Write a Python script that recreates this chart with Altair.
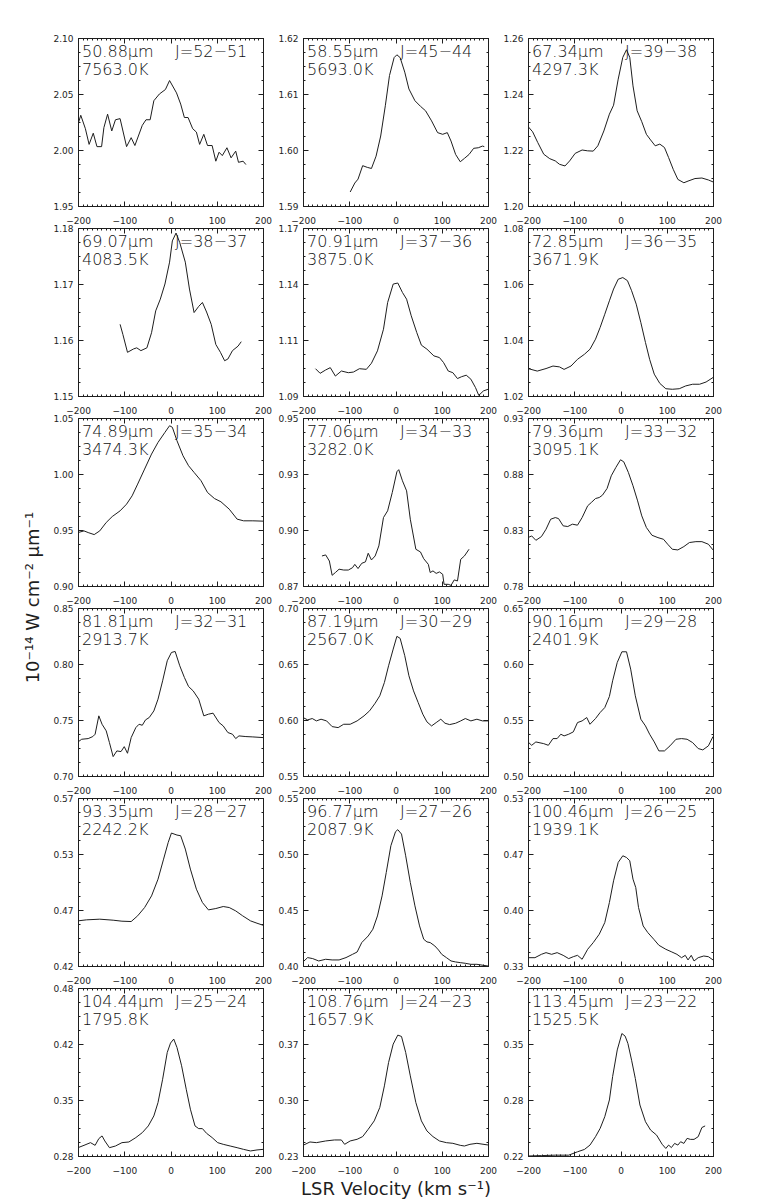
import altair as alt
import pandas as pd

# ---------------- data ----------------
V01 = [-200,-194,-184,-176,-167,-159,-149,-144,-136,-127,-119,-109,-95,-85,-77,-61,-53,-44,-36,-24,-11,-2,13,22,30,38,48,56,63,72,80,90,98,105,112,122,131,141,147,157,163]
F01 = [2.023,2.031,2.019,2.005,2.015,2.003,2.003,2.020,2.032,2.017,2.027,2.028,2.003,2.011,2.004,2.022,2.027,2.027,2.044,2.050,2.054,2.062,2.051,2.041,2.029,2.029,2.019,2.016,2.005,2.014,2.004,2.004,1.990,1.998,1.995,2.002,1.993,1.999,1.989,1.990,1.987]

V02 = [-98,-88,-81,-71,-61,-52,-42,-32,-22,-13,-3,3,10,20,29,42,54,65,78,91,102,112,120,130,140,149,159,169,179,188,192]
F02 = [1.5925,1.5941,1.5948,1.5972,1.5969,1.5967,1.5989,1.6025,1.6079,1.6133,1.6165,1.6170,1.6165,1.6139,1.6109,1.6088,1.6078,1.6070,1.6052,1.6031,1.6028,1.6031,1.6016,1.5992,1.5979,1.5985,1.5992,1.6003,1.6004,1.6007,1.6006]

V03 = [-200,-190,-179,-166,-153,-141,-132,-120,-110,-98,-83,-71,-59,-49,-36,-24,-15,-5,5,13,20,27,36,46,56,65,75,85,95,104,114,124,137,146,161,176,190,200]
F03 = [1.2284,1.2265,1.2227,1.2185,1.2169,1.2161,1.2149,1.2143,1.2161,1.2188,1.2200,1.2197,1.2196,1.2215,1.2268,1.2328,1.2360,1.2453,1.2531,1.2558,1.2531,1.2429,1.2340,1.2301,1.2256,1.2236,1.2215,1.2221,1.2209,1.2173,1.2131,1.2095,1.2083,1.2089,1.2098,1.2100,1.2093,1.2086]

V04 = [-109,-103,-93,-80,-73,-64,-51,-41,-32,-22,-12,-2,4,12,20,32,41,51,61,69,78,88,98,108,117,124,134,146,153]
F04 = [1.1628,1.1610,1.1578,1.1584,1.1586,1.1581,1.1586,1.1613,1.1652,1.1673,1.1700,1.1739,1.1777,1.1791,1.1774,1.1739,1.1691,1.1649,1.1660,1.1667,1.1650,1.1628,1.1592,1.1578,1.1563,1.1566,1.1581,1.1589,1.1597]

V05 = [-173,-163,-151,-141,-130,-117,-102,-91,-78,-63,-52,-39,-26,-17,-5,5,15,24,34,46,56,68,83,95,104,114,124,134,143,153,163,173,180,190,200]
F05 = [1.1030,1.1008,1.1024,1.1035,1.0995,1.1019,1.1011,1.1014,1.1030,1.1027,1.1056,1.1115,1.1218,1.1345,1.1433,1.1438,1.1393,1.1361,1.1282,1.1202,1.1142,1.1123,1.1091,1.1083,1.1059,1.1019,1.1011,1.0983,1.0992,1.0999,1.0980,1.0940,1.0903,1.0924,1.0932]

V06 = [-200,-180,-161,-146,-132,-122,-107,-93,-78,-66,-54,-44,-34,-24,-15,-5,5,15,24,34,44,54,63,73,85,98,112,127,141,156,171,185,200]
F06 = [1.0298,1.0289,1.0298,1.0307,1.0304,1.0295,1.0307,1.0331,1.0349,1.0367,1.0403,1.0445,1.0492,1.0540,1.0582,1.0617,1.0623,1.0612,1.0576,1.0528,1.0462,1.0391,1.0331,1.0278,1.0245,1.0226,1.0224,1.0226,1.0236,1.0242,1.0242,1.0250,1.0266]

V07 = [-200,-187,-178,-165,-153,-139,-126,-109,-95,-83,-71,-56,-41,-27,-12,-2,4,14,27,39,51,66,80,95,109,127,144,158,178,200]
F07 = [0.9477,0.9492,0.9477,0.9459,0.9492,0.9567,0.9620,0.9671,0.9731,0.9805,0.9910,1.0044,1.0178,1.0282,1.0372,1.0431,1.0417,1.0297,1.0163,1.0074,1.0014,0.9940,0.9835,0.9781,0.9752,0.9686,0.9597,0.9582,0.9582,0.9579]

V08 = [-159,-151,-143,-137,-130,-122,-112,-102,-93,-88,-81,-73,-65,-59,-52,-44,-36,-26,-17,-7,3,7,15,24,32,44,54,61,71,75,81,88,95,102,105,114,120,127,134,141,149,159]
F08 = [0.8843,0.8848,0.8819,0.8751,0.8764,0.8780,0.8776,0.8776,0.8787,0.8803,0.8783,0.8808,0.8815,0.8856,0.8824,0.8843,0.8891,0.9026,0.9058,0.9145,0.9244,0.9254,0.9201,0.9153,0.9018,0.8875,0.8862,0.8830,0.8803,0.8764,0.8772,0.8760,0.8767,0.8756,0.8708,0.8708,0.8703,0.8729,0.8724,0.8827,0.8843,0.8875]

V09 = [-200,-192,-183,-171,-161,-151,-141,-134,-124,-114,-104,-93,-83,-71,-63,-54,-46,-39,-29,-20,-10,0,7,17,27,37,46,56,68,81,93,102,112,124,137,149,163,176,190,200]
F09 = [0.8232,0.8247,0.8208,0.8241,0.8307,0.8396,0.8411,0.8402,0.8337,0.8331,0.8352,0.8343,0.8411,0.8516,0.8546,0.8581,0.8590,0.8611,0.8671,0.8784,0.8859,0.8927,0.8909,0.8814,0.8695,0.8560,0.8426,0.8322,0.8253,0.8232,0.8217,0.8173,0.8128,0.8122,0.8152,0.8188,0.8196,0.8196,0.8173,0.8122]

V10 = [-200,-192,-178,-168,-163,-155,-148,-139,-132,-124,-116,-107,-100,-93,-85,-75,-68,-61,-54,-46,-36,-27,-17,-7,2,10,20,30,39,49,61,72,82,92,105,114,124,134,141,148,163,178,200]
F10 = [0.7304,0.7328,0.7334,0.7352,0.7373,0.7537,0.7462,0.7403,0.7298,0.7173,0.7224,0.7218,0.7262,0.7203,0.7343,0.7432,0.7462,0.7453,0.7501,0.7522,0.7581,0.7686,0.7850,0.8029,0.8103,0.8112,0.7984,0.7880,0.7799,0.7760,0.7686,0.7537,0.7552,0.7561,0.7477,0.7447,0.7388,0.7373,0.7334,0.7358,0.7352,0.7349,0.7343]

V11 = [-200,-190,-180,-171,-161,-149,-137,-124,-112,-98,-83,-68,-56,-44,-34,-24,-15,-5,3,10,20,29,39,49,59,68,78,88,98,107,117,130,141,151,163,176,188,200]
F11 = [0.6022,0.6001,0.6013,0.5992,0.6007,0.5992,0.5941,0.5932,0.5962,0.5962,0.5992,0.6037,0.6082,0.6150,0.6216,0.6335,0.6484,0.6633,0.6747,0.6729,0.6574,0.6395,0.6260,0.6156,0.6052,0.5983,0.5947,0.5977,0.6007,0.5971,0.5959,0.5971,0.5992,0.6013,0.5992,0.6007,0.5992,0.5992]

V12 = [-200,-192,-183,-166,-156,-146,-137,-129,-122,-112,-102,-93,-83,-73,-66,-54,-44,-34,-24,-17,-7,3,13,22,32,44,54,63,73,83,95,107,120,132,144,156,168,178,190,200]
F12 = [0.5304,0.5274,0.5304,0.5289,0.5274,0.5334,0.5334,0.5373,0.5358,0.5373,0.5394,0.5477,0.5492,0.5522,0.5462,0.5513,0.5567,0.5611,0.5710,0.5850,0.6014,0.6109,0.6109,0.5954,0.5716,0.5507,0.5447,0.5373,0.5304,0.5224,0.5224,0.5269,0.5328,0.5334,0.5328,0.5298,0.5245,0.5233,0.5269,0.5352]

V13 = [-200,-182,-153,-124,-105,-85,-71,-56,-41,-27,-15,-5,2,14,22,32,43,56,69,82,98,114,127,141,156,173,187,200]
F13 = [0.4603,0.4612,0.4618,0.4609,0.4600,0.4597,0.4648,0.4722,0.4826,0.4975,0.5154,0.5303,0.5387,0.5369,0.5363,0.5244,0.5065,0.4886,0.4767,0.4701,0.4713,0.4731,0.4722,0.4692,0.4648,0.4603,0.4582,0.4564]

V14 = [-200,-190,-179,-166,-151,-137,-122,-107,-93,-83,-73,-59,-49,-39,-29,-20,-10,0,5,13,22,32,42,52,61,68,75,85,93,100,110,120,130,140,151,163,176,190,200]
F14 = [0.4036,0.4075,0.4066,0.4045,0.4060,0.4054,0.4054,0.4075,0.4104,0.4125,0.4209,0.4268,0.4328,0.4447,0.4626,0.4835,0.5074,0.5199,0.5217,0.5178,0.4984,0.4746,0.4537,0.4358,0.4239,0.4215,0.4209,0.4179,0.4143,0.4104,0.4075,0.4045,0.4036,0.4030,0.4024,0.4015,0.4015,0.4006,0.4000]

V15 = [-200,-185,-171,-161,-149,-137,-124,-112,-102,-93,-83,-71,-59,-46,-34,-24,-15,-5,5,13,20,27,33,39,49,59,72,83,98,111,122,132,140,146,153,159,168,180,190,200]
F15 = [0.3399,0.3399,0.3439,0.3459,0.3439,0.3459,0.3427,0.3388,0.3411,0.3427,0.3380,0.3499,0.3578,0.3678,0.3817,0.4056,0.4314,0.4533,0.4612,0.4592,0.4553,0.4334,0.4234,0.3996,0.3777,0.3698,0.3618,0.3547,0.3499,0.3467,0.3439,0.3399,0.3427,0.3372,0.3427,0.3360,0.3399,0.3419,0.3411,0.3372]

V16 = [-200,-187,-173,-163,-155,-148,-142,-132,-119,-105,-90,-75,-61,-48,-36,-27,-17,-7,0,7,14,24,34,43,53,61,69,78,90,102,114,129,144,158,173,187,200]
F16 = [0.2899,0.2927,0.2959,0.2927,0.3007,0.3039,0.2979,0.2899,0.2919,0.2959,0.2967,0.3019,0.3078,0.3158,0.3277,0.3436,0.3714,0.4033,0.4144,0.4192,0.4092,0.3874,0.3595,0.3357,0.3158,0.3126,0.3126,0.3070,0.3019,0.2959,0.2939,0.2919,0.2899,0.2879,0.2860,0.2872,0.2879]

V17 = [-200,-185,-171,-151,-132,-117,-110,-98,-83,-71,-59,-46,-34,-24,-15,-5,5,13,22,32,44,56,68,81,95,110,124,140,149,161,176,200]
F17 = [0.2427,0.2467,0.2459,0.2479,0.2491,0.2491,0.2439,0.2479,0.2499,0.2531,0.2618,0.2718,0.2877,0.3135,0.3413,0.3632,0.3739,0.3723,0.3533,0.3254,0.2936,0.2718,0.2598,0.2531,0.2479,0.2459,0.2451,0.2427,0.2419,0.2439,0.2451,0.2431]

V18 = [-200,-171,-141,-112,-93,-78,-66,-54,-44,-34,-24,-17,-7,3,10,16,24,32,42,54,65,78,90,98,104,110,117,124,130,137,144,151,159,168,176,183]
F18 = [0.2200,0.2205,0.2210,0.2210,0.2250,0.2278,0.2330,0.2430,0.2529,0.2668,0.2867,0.3146,0.3463,0.3658,0.3627,0.3540,0.3340,0.3123,0.2807,0.2608,0.2509,0.2449,0.2340,0.2290,0.2330,0.2300,0.2350,0.2330,0.2370,0.2350,0.2410,0.2398,0.2398,0.2430,0.2539,0.2558]

WAVE = ["50.88μm", "58.55μm", "67.34μm", "69.07μm", "70.91μm", "72.85μm",
        "74.89μm", "77.06μm", "79.36μm", "81.81μm", "87.19μm", "90.16μm",
        "93.35μm", "96.77μm", "100.46μm", "104.44μm", "108.76μm", "113.45μm"]
JTRANS = ["J=52−51", "J=45−44", "J=39−38", "J=38−37", "J=37−36", "J=36−35",
          "J=35−34", "J=34−33", "J=33−32", "J=32−31", "J=30−29", "J=29−28",
          "J=28−27", "J=27−26", "J=26−25", "J=25−24", "J=24−23", "J=23−22"]
TEMP = ["7563.0K", "5693.0K", "4297.3K", "4083.5K", "3875.0K", "3671.9K",
        "3474.3K", "3282.0K", "3095.1K", "2913.7K", "2567.0K", "2401.9K",
        "2242.2K", "2087.9K", "1939.1K", "1795.8K", "1657.9K", "1525.5K"]
YTICKS = [["1.95", "2.00", "2.05", "2.10"], ["1.59", "1.60", "1.61", "1.62"],
          ["1.20", "1.22", "1.24", "1.26"], ["1.15", "1.16", "1.17", "1.18"],
          ["1.09", "1.11", "1.14", "1.17"], ["1.02", "1.04", "1.06", "1.08"],
          ["0.90", "0.95", "1.00", "1.05"], ["0.87", "0.90", "0.93", "0.95"],
          ["0.78", "0.83", "0.88", "0.93"], ["0.70", "0.75", "0.80", "0.85"],
          ["0.55", "0.60", "0.65", "0.70"], ["0.50", "0.55", "0.60", "0.65"],
          ["0.42", "0.47", "0.53", "0.57"], ["0.40", "0.45", "0.50", "0.55"],
          ["0.33", "0.40", "0.47", "0.53"], ["0.28", "0.35", "0.42", "0.48"],
          ["0.23", "0.30", "0.37", "0.43"], ["0.22", "0.28", "0.35", "0.42"]]
XTICKS = [-200, -100, 0, 100, 200]
XMINOR = list(range(-200, 201, 10))
YTITLE = "10⁻¹⁴ W cm⁻² μm⁻¹"
XTITLE = "LSR Velocity (km s⁻¹)"

VS = [V01, V02, V03, V04, V05, V06, V07, V08, V09, V10, V11, V12, V13, V14, V15, V16, V17, V18]
FS = [F01, F02, F03, F04, F05, F06, F07, F08, F09, F10, F11, F12, F13, F14, F15, F16, F17, F18]

# ---------------- styling ----------------
FONT = "DejaVu Sans"
INK = "#1e1e1e"
W, H = 185, 168
MAJ, MIN = 5, 2


def axis(orient, values, size, labels=False, pad=3, **kw):
    return alt.Axis(orient=orient, values=values, tickSize=size, offset=-size,
                    domain=False, grid=False, labels=labels, ticks=True,
                    tickColor=INK, tickWidth=1, labelFont=FONT, labelFontSize=9,
                    labelColor=INK, labelPadding=pad, labelFlush=False,
                    labelOverlap=False, **kw)


def panel(i):
    labs = YTICKS[i]
    lo, hi = float(labs[0]), float(labs[-1])
    step = (hi - lo) / 3
    major = [lo + k * step for k in range(4)]
    minor = [lo + k * step / 4 for k in range(13)]
    expr = (f"datum.value < {lo + 0.5 * step} ? '{labs[0]}' : "
            f"datum.value < {lo + 1.5 * step} ? '{labs[1]}' : "
            f"datum.value < {lo + 2.5 * step} ? '{labs[2]}' : '{labs[3]}'")
    df = pd.DataFrame({"v": VS[i], "f": FS[i]})
    xs = alt.Scale(domain=[-200, 200], nice=False, zero=False)
    ys = alt.Scale(domain=[lo, hi], nice=False, zero=False)
    base = alt.Chart(df)

    xkw = {"title": None}
    ykw = {"title": None}
    if i == 16:
        xkw = dict(title=XTITLE, titleFont=FONT, titleFontSize=18, titleFontWeight="normal",
                   titleColor=INK, titleX=92.5, titleY=43, titleBaseline="alphabetic",
                   titleAlign="center")
    if i == 6:
        ykw = dict(title=YTITLE, titleFont=FONT, titleFontSize=18, titleFontWeight="normal",
                   titleColor=INK, titleX=-45, titleY=H + 11, titleAngle=270,
                   titleBaseline="alphabetic", titleAlign="center")
    l1 = base.mark_line(color=INK, strokeWidth=1, clip=True).encode(
        x=alt.X("v:Q", scale=xs, axis=axis("bottom", XTICKS, MAJ, labels=True, pad=10, **xkw)),
        y=alt.Y("f:Q", scale=ys, axis=axis("left", major, MAJ, labels=True, pad=5,
                                          labelExpr=expr, **ykw)),
    )
    l2 = base.mark_line(strokeOpacity=0).encode(
        x=alt.X("v:Q", scale=xs, axis=axis("top", XTICKS, MAJ, title=None)),
        y=alt.Y("f:Q", scale=ys, axis=axis("right", major, MAJ, title=None)),
    )
    l3 = base.mark_line(strokeOpacity=0).encode(
        x=alt.X("v:Q", scale=xs, axis=axis("bottom", XMINOR, MIN, title=None)),
        y=alt.Y("f:Q", scale=ys, axis=axis("left", minor, MIN, title=None)),
    )
    l4 = base.mark_line(strokeOpacity=0).encode(
        x=alt.X("v:Q", scale=xs, axis=axis("top", XMINOR, MIN, title=None)),
        y=alt.Y("f:Q", scale=ys, axis=axis("right", minor, MIN, title=None)),
    )
    tdf = pd.DataFrame({"w": [WAVE[i]], "j": [JTRANS[i]], "t": [TEMP[i]]})
    tb = alt.Chart(tdf).mark_text(align="left", baseline="alphabetic", font=FONT,
                                  fontSize=16, fontWeight=300, color="#111111")
    t1 = tb.encode(x=alt.value(4), y=alt.value(19), text="w:N")
    t2 = tb.encode(x=alt.value(97), y=alt.value(19), text="j:N")
    t3 = tb.encode(x=alt.value(4), y=alt.value(37), text="t:N")
    return (alt.layer(l1, l2, l3, l4, t1, t2, t3)
            .resolve_axis(x="independent", y="independent")
            .properties(width=W, height=H))


chart = (alt.concat(*[panel(i) for i in range(18)], columns=3,
                    spacing=alt.RowColnumber(row=22, column=40))
         .properties(bounds="flush", padding={"left": 15, "top": 25, "right": 5, "bottom": 0})
         .configure_view(stroke=INK, strokeWidth=1)
         .configure_axis(grid=False))

chart.save("out.html", embed_options={"renderer": "svg", "actions": False})
